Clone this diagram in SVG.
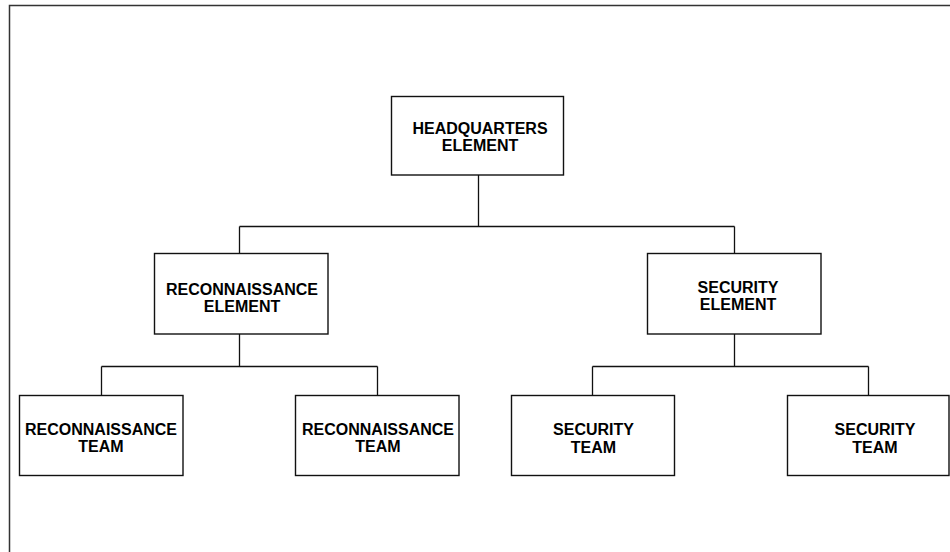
<svg xmlns="http://www.w3.org/2000/svg" width="950" height="552" viewBox="0 0 950 552">
<style>
.box{fill:#fff;stroke:#111;stroke-width:1.4}
.ln{fill:none;stroke:#111;stroke-width:1.3}
.t{font-family:"Liberation Sans",Arial,sans-serif;font-weight:bold;font-size:16px;fill:#000;text-anchor:middle}
</style>
<rect width="950" height="552" fill="#fff"/>
<path d="M9.5 560 V5.5 H960" fill="none" stroke="#333" stroke-width="1.5"/>
<g id="connectors">
<path class="ln" d="M478.5 175 V226.5 M239.5 226.5 H734.5 M239.5 226.5 V253 M734.5 226.5 V253"/>
<path class="ln" d="M239.5 334 V366.5 M101.5 366.5 H377.5 M101.5 366.5 V395 M377.5 366.5 V395"/>
<path class="ln" d="M734.5 334 V366.5 M592.5 366.5 H868.5 M592.5 366.5 V395 M868.5 366.5 V395"/>
</g>
<g id="hq">
<rect class="box" x="391.5" y="96.5" width="172" height="78.5"/>
<text class="t" x="480" y="134">HEADQUARTERS</text>
<text class="t" x="480" y="151">ELEMENT</text>
</g>
<g id="recon-element">
<rect class="box" x="154.5" y="253.5" width="173.5" height="80.5"/>
<text class="t" x="242" y="295">RECONNAISSANCE</text>
<text class="t" x="242" y="312">ELEMENT</text>
</g>
<g id="security-element">
<rect class="box" x="647.5" y="253.5" width="173.5" height="80.5"/>
<text class="t" x="738" y="292.5">SECURITY</text>
<text class="t" x="738" y="309.5">ELEMENT</text>
</g>
<g id="recon-team-1">
<rect class="box" x="19.5" y="395.5" width="163.5" height="80"/>
<text class="t" x="101" y="435">RECONNAISSANCE</text>
<text class="t" x="101" y="452">TEAM</text>
</g>
<g id="recon-team-2">
<rect class="box" x="295.5" y="395.5" width="163.5" height="80"/>
<text class="t" x="378" y="435">RECONNAISSANCE</text>
<text class="t" x="378" y="452">TEAM</text>
</g>
<g id="security-team-1">
<rect class="box" x="511.5" y="395.5" width="163" height="80"/>
<text class="t" x="593.5" y="435">SECURITY</text>
<text class="t" x="593.5" y="452.5">TEAM</text>
</g>
<g id="security-team-2">
<rect class="box" x="787.5" y="395.5" width="161.5" height="80"/>
<text class="t" x="875" y="435">SECURITY</text>
<text class="t" x="875" y="452.5">TEAM</text>
</g>
</svg>
